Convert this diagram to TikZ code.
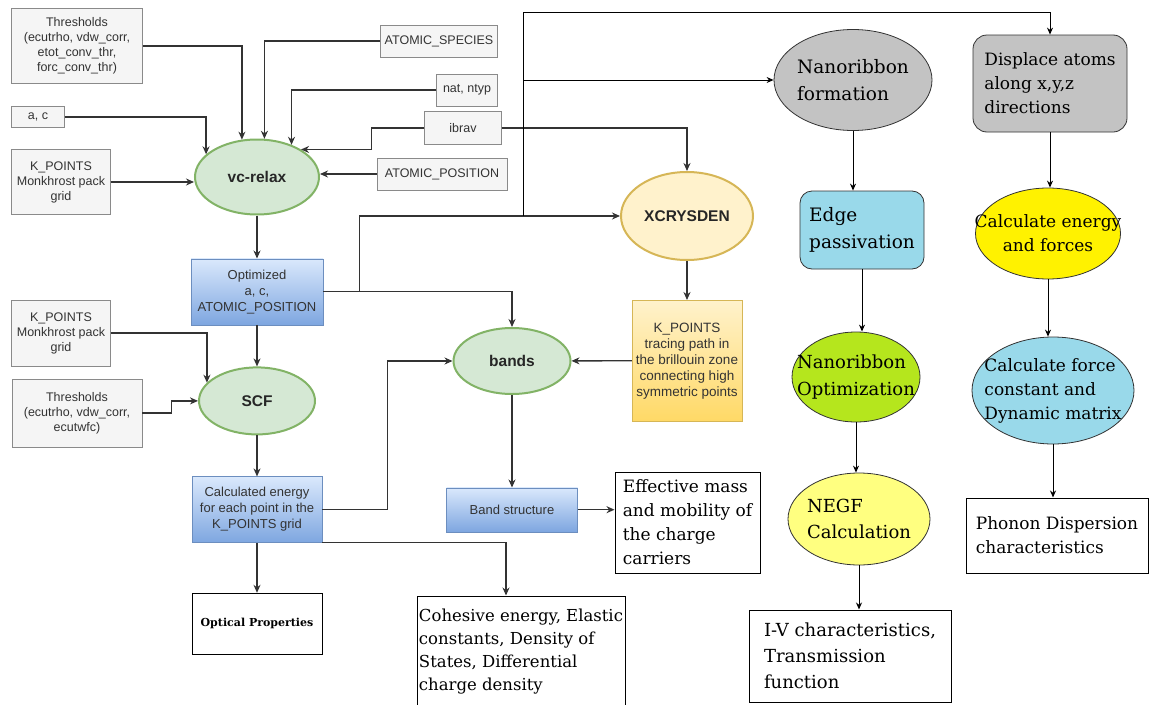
\documentclass[tikz,border=0pt]{standalone}
\usepackage{fontspec}
\setmainfont{Liberation Sans}
\newfontfamily\dvserif{DejaVu Serif}
\usepackage{tikz}
\usetikzlibrary{
	positioning,
	shapes.geometric,
	arrows.meta
}
\definecolor{InFill}{HTML}{F5F5F5}
\definecolor{InLine}{HTML}{8A8A8A}
\definecolor{InText}{HTML}{333333}
\definecolor{RunFill}{HTML}{D5E8D4}
\definecolor{RunLine}{HTML}{82B366}
\definecolor{OutTop}{HTML}{DAE8FC}
\definecolor{OutBot}{HTML}{7EA6E0}
\definecolor{OutLine}{HTML}{6C8EBF}
\definecolor{XcFill}{HTML}{FFF2CC}
\definecolor{XcLine}{HTML}{D6B656}
\definecolor{XcBot}{HTML}{FFD966}
\definecolor{LinkGrey}{HTML}{333333}
\definecolor{RibLine}{HTML}{333333}
\definecolor{RibGrey}{HTML}{C3C3C3}
\definecolor{RibBlue}{HTML}{99D9EA}
\definecolor{RibYellow}{HTML}{FFF200}
\definecolor{RibGreen}{HTML}{B5E61D}
\definecolor{RibLight}{HTML}{FFFF80}

\begin{document}
\begin{tikzpicture}[
	x=1pt, y=-1pt,
	inbox/.style={
		draw=InLine, fill=InFill, text=InText,
		align=center, inner sep=0pt,
		font=\fontsize{12.5}{15}\selectfont
	},
	runell/.style={
		ellipse, draw=RunLine, fill=RunFill, line width=2pt,
		inner sep=0pt, text=black!85,
		font=\bfseries\fontsize{15.5}{18}\selectfont
	},
	outbox/.style={
		draw=OutLine, top color=OutTop, bottom color=OutBot,
		align=center, inner sep=0pt, text=InText,
		font=\fontsize{13}{16}\selectfont
	},
	resbox/.style={
		draw=black, fill=white, line width=1pt,
		align=left, inner sep=1pt,
		font=\dvserif\fontsize{17}{24}\selectfont
	},
	ribbon/.style={
		draw=RibLine, line width=0.8pt, inner sep=0pt
	},
	ribtext/.style={
		align=left, inner sep=0pt,
		font=\dvserif\fontsize{17}{24}\selectfont
	},
	ribtextbig/.style={
		align=left, inner sep=0pt,
		font=\dvserif\fontsize{18.5}{26.5}\selectfont
	},
	link/.style={
		-{Stealth[length=8pt,width=7pt]},
		draw=LinkGrey, line width=1.3pt
	},
	rlink/.style={
		-{Stealth[length=7pt,width=6pt]},
		draw=black, line width=1pt
	}
]

\clip (0,0) rectangle (1151,704);
\fill[white] (0,0) rectangle (1151,704);

% inputs of vc-relax
\node[
	inbox,
	minimum width=131pt,
	minimum height=75pt
]
(thr1) at (77,46)
{Thresholds\\(ecutrho, vdw\_corr,\\etot\_conv\_thr,\\forc\_conv\_thr)};

\node[
	inbox,
	minimum width=53pt,
	minimum height=21pt
]
(ac) at (38,117)
{a, c};

\node[
	inbox,
	minimum width=99pt,
	minimum height=65pt
]
(kp1) at (61,182)
{K\_POINTS\\Monkhrost pack\\grid};

\node[
	inbox,
	minimum width=117pt,
	minimum height=32pt
]
(species) at (439,41)
{ATOMIC\_SPECIES};

\node[
	inbox,
	minimum width=61pt,
	minimum height=32pt
]
(nat) at (467,90)
{nat, ntyp};

\node[
	inbox,
	minimum width=77pt,
	minimum height=33pt
]
(ibrav) at (463,128)
{ibrav};

\node[
	inbox,
	minimum width=130pt,
	minimum height=32pt
]
(atpos) at (442,174)
{ATOMIC\_POSITION};

% main chain
\node[
	runell,
	minimum width=124pt,
	minimum height=75pt
]
(vcrelax) at (257,177)
{vc-relax};

\node[
	outbox,
	minimum width=132pt,
	minimum height=66pt,
	below=43pt of vcrelax
]
(opt)
{Optimized\\a, c,\\ATOMIC\_POSITION};

\node[
	inbox,
	minimum width=99pt,
	minimum height=66pt
]
(kp2) at (61,333)
{K\_POINTS\\Monkhrost pack\\grid};

\node[
	inbox,
	minimum width=130pt,
	minimum height=68pt
]
(thr2) at (77,413)
{Thresholds\\(ecutrho, vdw\_corr,\\ecutwfc)};

\node[
	runell,
	minimum width=116pt,
	minimum height=67pt,
	below=41.5pt of opt
]
(scf)
{SCF};

\node[
	outbox,
	minimum width=130pt,
	minimum height=66pt,
	below=41pt of scf
]
(calc)
{Calculated energy\\for each point in the\\K\_POINTS grid};

\node[
	resbox,
	minimum width=130pt,
	minimum height=61pt,
	font=\dvserif\bfseries\fontsize{11}{14}\selectfont,
	below=50pt of calc
]
(optical)
{Optical Properties};

\node[
	resbox,
	minimum width=208pt,
	minimum height=112pt,
	font=\dvserif\fontsize{16.5}{23}\selectfont
]
(cohesive) at (521,652)
{Cohesive energy, Elastic\\constants, Density of\\States, Differential\\charge density};

% band structure branch
\node[
	runell,
	minimum width=117pt,
	minimum height=66pt
]
(bands) at (512,361)
{bands};

\node[
	runell,
	draw=XcLine,
	fill=XcFill,
	minimum width=132pt,
	minimum height=88pt
]
(xcry) at (687,216)
{XCRYSDEN};

\node[
	outbox,
	draw=XcLine,
	top color=XcFill,
	bottom color=XcBot,
	minimum width=110pt,
	minimum height=121pt,
	font=\fontsize{13.5}{16}\selectfont,
	below=39pt of xcry
]
(kpath)
{K\_POINTS\\tracing path in\\the brillouin zone\\connecting high\\symmetric points};

\node[
	outbox,
	minimum width=131pt,
	minimum height=44pt,
	below=92.5pt of bands
]
(bandstr)
{Band structure};

\node[
	resbox,
	minimum width=145pt,
	minimum height=101pt
]
(effmass) at (687.5,522.5)
{Effective mass\\and mobility of\\the charge\\carriers};

% nanoribbon branch
\node[
	ribbon,
	ellipse,
	fill=RibGrey,
	minimum width=158pt,
	minimum height=101pt
]
(nform) at (853,80)
{};
\node[ribtextbig] (nformtxt) at (nform) {Nanoribbon\\formation};

\node[
	ribbon,
	rounded corners=12pt,
	fill=RibBlue,
	minimum width=124pt,
	minimum height=78pt
]
(edge) at (862,230)
{};
\node[ribtextbig] (edgetxt) at (edge) {Edge\\passivation};

\node[
	ribbon,
	ellipse,
	fill=RibGreen,
	minimum width=128pt,
	minimum height=90pt
]
(nopt) at (856,377)
{};
\node[ribtextbig, font=\dvserif\fontsize{18}{26.5}\selectfont] (nopttxt) at (nopt) {Nanoribbon\\Optimization};

\node[
	ribbon,
	ellipse,
	fill=RibLight,
	minimum width=142pt,
	minimum height=92pt
]
(negf) at (859,519)
{};
\node[ribtextbig, font=\dvserif\fontsize{18}{26.5}\selectfont] (negftxt) at (negf) {NEGF\\Calculation};

\node[
	resbox,
	minimum width=202pt,
	minimum height=92pt,
	font=\dvserif\fontsize{18}{26}\selectfont
]
(iv) at (850,656)
{I-V characteristics,\\Transmission\\function};

% phonon branch
\node[
	ribbon,
	rounded corners=14pt,
	fill=RibGrey,
	minimum width=154pt,
	minimum height=97pt
]
(displace) at (1050,83.5)
{};
\node[ribtext] (displacetxt) at (displace) {Displace atoms\\along x,y,z\\directions};

\node[
	ribbon,
	ellipse,
	fill=RibYellow,
	minimum width=145pt,
	minimum height=91pt
]
(calcE) at (1048,233.5)
{};
\node[ribtext, align=center] (calcEtxt) at (calcE) {Calculate energy\\and forces};

\node[
	ribbon,
	ellipse,
	fill=RibBlue,
	minimum width=162pt,
	minimum height=107pt
]
(calcF) at (1053,390.5)
{};
\node[ribtext] (calcFtxt) at (calcF) {Calculate force\\constant and\\Dynamic matrix};

\node[
	resbox,
	minimum width=182pt,
	minimum height=75pt
]
(phonon) at (1057,535.5)
{Phonon Dispersion\\characteristics};

\coordinate (fork) at (523,216);

% connectors into vc-relax
\draw[link] (thr1.east) -| (vcrelax.112);
\draw[link] (ac.east) -| (vcrelax.156);
\draw[link] (kp1.east) -- (kp1.east -| vcrelax.west);
\draw[link] (species.west) -| (vcrelax.79);
\draw[link] (nat.west) -| (vcrelax.43);
\draw[link] (ibrav.west) -- ++(-53,0) |- (vcrelax.32);
\draw[link] (atpos.west) -- (atpos.west -| vcrelax.east);

% main chain
\draw[link] (vcrelax) -- (opt);
\draw[link] (opt) -- (scf);
\draw[link] (kp2.east) -| (scf.160);
\draw[link] (thr2.east) -- ++(29,0) |- (scf.west);
\draw[link] (scf) -- (calc);
\draw[link] (calc) -- (optical);
\draw[link] (calc.south east) -| ([xshift=-15pt]cohesive.north);

% bands
\draw[link] (ibrav.east) -| (xcry.north);
\draw[link] (opt.east) -| (bands.north);
\draw[link] (opt.east) -- ++(36,0) |- (xcry.west);
\draw[link] (xcry) -- (kpath);
\draw[link] (kpath) -- (bands);
\draw[link] (calc.east) -- ++(65,0) |- (bands.west);
\draw[link] (bands) -- (bandstr);
\draw[link] (bandstr.east) -- (bandstr.east -| effmass.west);

% nanoribbon and phonon
\draw[rlink] (fork) -- ++(0,-204) -| (displace.north);
\draw[rlink] (fork |- nform.west) -- (nform.west);
\draw[rlink] (nform.south) -- (nform.south |- edge.north);
\draw[rlink] (edge.south) -- (edge.south |- nopt.north);
\draw[rlink] (nopt.south) -- (nopt.south |- negf.north);
\draw[rlink] (negf.south) -- (negf.south |- iv.north);
\draw[rlink] (displace.south) -- (displace.south |- calcE.north);
\draw[rlink] (calcE.south) -- (calcE.south |- calcF.north);
\draw[rlink] (calcF.south) -- (calcF.south |- phonon.north);

\end{tikzpicture}
\end{document}
